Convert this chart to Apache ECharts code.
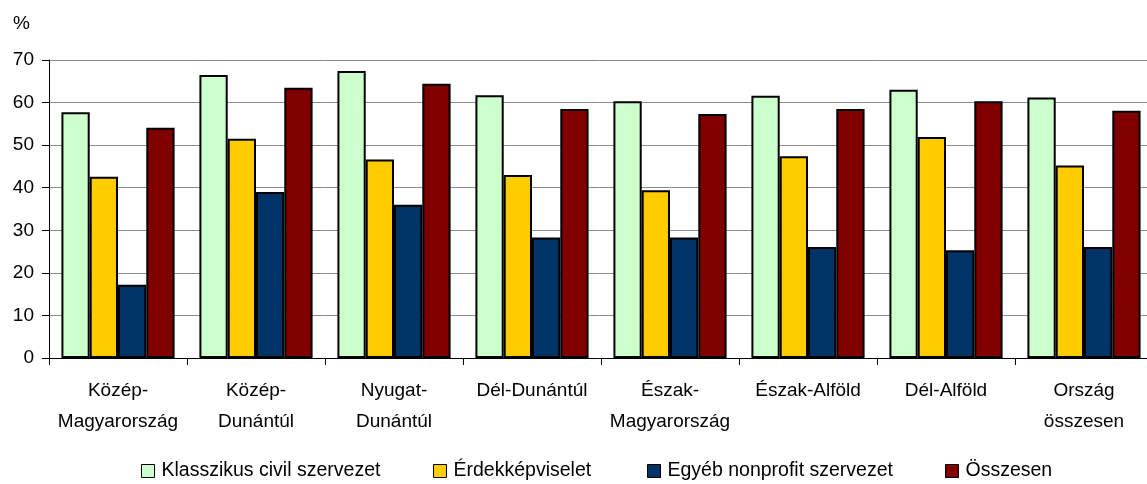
<!DOCTYPE html>
<html>
<head>
<meta charset="utf-8">
<script src="https://cdn.jsdelivr.net/npm/echarts@6/dist/echarts.min.js"></script>
<style>
  html, body { margin: 0; padding: 0; background: #fff; }
  #chart { width: 1147px; height: 484px; }
</style>
</head>
<body>
<div id="chart"></div>
<script>
// regions
let regions = ["Közép-\nMagyarország", "Közép-\nDunántúl", "Nyugat-\nDunántúl", "Dél-Dunántúl",
  "Észak-\nMagyarország", "Észak-Alföld", "Dél-Alföld", "Ország\nösszesen"];

let seriesNames = ["Klasszikus civil szervezet", "Érdekképviselet", "Egyéb nonprofit szervezet", "Összesen"];

// values, %
let klasszikus = [57.7, 66.5, 67.4, 61.7, 60.3, 61.6, 63.0, 61.2];
let erdekkepviselet = [42.6, 51.5, 46.6, 43.0, 39.4, 47.4, 51.9, 45.2];
let egyeb = [17.2, 39.0, 36.0, 28.3, 28.3, 26.1, 25.3, 26.1];
let osszesen = [54.1, 63.5, 64.4, 58.5, 57.3, 58.5, 60.3, 58.1];

let yTicks = [0, 10, 20, 30, 40, 50, 60, 70];

let colors = ["#CCFFCC", "#FFCC00", "#003366", "#800000"];
let legendLeft = [141, 433, 647, 945];

let font = "Liberation Sans, Arial, sans-serif";

let chartDom = document.getElementById("chart");
let chart = echarts.init(chartDom, null, { renderer: "canvas" });

let allValues = [klasszikus, erdekkepviselet, egyeb, osszesen];

let series = seriesNames.map((name, i) => ({
    name: name,
    type: "bar",
    data: allValues[i],
    barGap: 0,
    barCategoryGap: "18%",
    itemStyle: { color: colors[i], borderColor: "#000", borderWidth: 2 },
    emphasis: { disabled: true }
}));

let legends = seriesNames.map((name, i) => ({
    data: [name],
    left: legendLeft[i],
    top: 461,
    padding: 0,
    itemWidth: 13,
    itemHeight: 13,
    icon: "rect",
    itemStyle: { borderColor: "#000", borderWidth: 1 },
    textStyle: { fontFamily: font, fontSize: 19.5, color: "#000", padding: [0, 0, 0, 2] }
}));

let option = {
    animation: false,
    backgroundColor: "#fff",
    color: colors,
    textStyle: { fontFamily: font },
    graphic: [{
        type: "text",
        left: 13,
        top: 14,
        style: { text: "%", font: "19px " + font, fill: "#000" }
    }],
    legend: legends,
    grid: {
        left: 49,
        right: -6,
        top: 60,
        bottom: 126,
        containLabel: false,
        outerBoundsMode: "none"
    },
    xAxis: {
        type: "category",
        data: regions,
        axisLine: { lineStyle: { color: "#000", width: 1 } },
        axisTick: { show: true, length: 7, lineStyle: { color: "#000" } },
        axisLabel: {
            interval: 0,
            margin: 17,
            fontSize: 19,
            lineHeight: 31,
            color: "#000",
            fontFamily: font
        }
    },
    yAxis: {
        type: "value",
        min: yTicks[0],
        max: yTicks[yTicks.length - 1],
        interval: 10,
        axisLine: { show: true, lineStyle: { color: "#000", width: 1 } },
        axisTick: { show: true, length: 7, lineStyle: { color: "#000" } },
        axisLabel: { margin: 15, fontSize: 19, color: "#000", fontFamily: font },
        splitLine: { show: true, lineStyle: { color: "#8c8c8c", width: 1 } }
    },
    series: series
};

chart.setOption(option);
</script>
</body>
</html>
